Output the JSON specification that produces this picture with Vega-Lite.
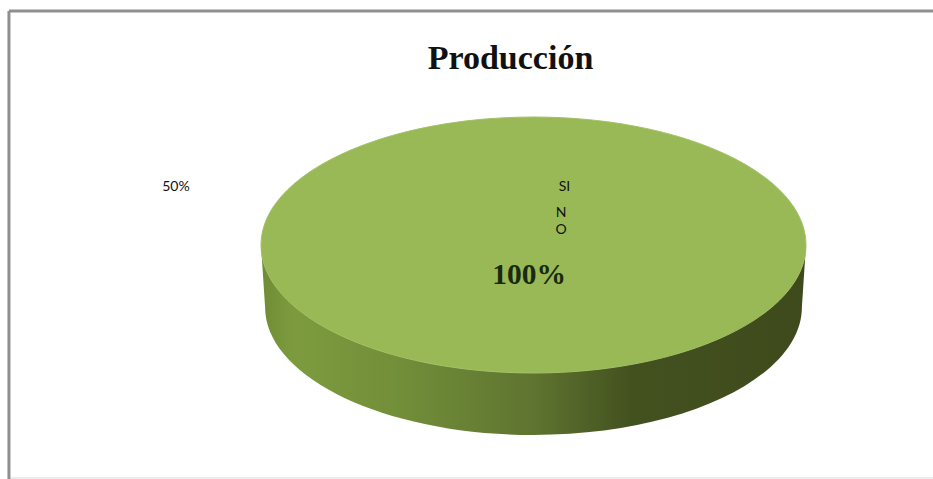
{
  "$schema": "https://vega.github.io/schema/vega-lite/v6.json",
  "width": 933,
  "height": 479,
  "padding": 0,
  "autosize": {"type": "none"},
  "background": "#ffffff",
  "view": {"stroke": null},
  "title": {"text": "Producción", "font": "Liberation Serif", "fontSize": 34, "fontWeight": "bold", "color": "#111111", "anchor": "middle", "frame": "group", "dx": 44, "offset": -103, "baseline": "alphabetic"},
  "data": {"values": [
    {"respuesta": "SI", "porcentaje": 100, "etiqueta": "100%", "nombre": "SI"},
    {"respuesta": "NO", "porcentaje": 50, "etiqueta": "50%", "nombre": "N\nO"}
  ]},
  "layer": [
    {
      "transform": [{"filter": "datum.respuesta === 'SI'"}],
      "mark": {"type": "rule", "color": "#ececec", "strokeWidth": 2},
      "encoding": {
        "x": {"datum": 0.96, "type": "quantitative", "scale": {"domain": [0, 100]}, "axis": null},
        "x2": {"datum": 100},
        "y": {"datum": 99.8, "type": "quantitative", "scale": {"domain": [0, 100], "reverse": true}, "axis": null}
      }
    },
    {
      "transform": [{"filter": "datum.respuesta === 'SI'"}],
      "mark": {"type": "rule", "color": "#8f8f8f", "strokeWidth": 3},
      "encoding": {
        "x": {"datum": 0.96, "type": "quantitative", "scale": {"domain": [0, 100]}, "axis": null},
        "x2": {"datum": 100},
        "y": {"datum": 2.3, "type": "quantitative", "scale": {"domain": [0, 100], "reverse": true}, "axis": null}
      }
    },
    {
      "transform": [{"filter": "datum.respuesta === 'SI'"}],
      "mark": {"type": "rule", "color": "#8f8f8f", "strokeWidth": 3},
      "encoding": {
        "x": {"datum": 0.96, "type": "quantitative", "scale": {"domain": [0, 100]}, "axis": null},
        "y": {"datum": 2.3, "type": "quantitative", "scale": {"domain": [0, 100], "reverse": true}, "axis": null},
        "y2": {"datum": 100}
      }
    },
    {
      "transform": [{"filter": "datum.respuesta === 'SI'"}],
      "mark": {
        "type": "point", "filled": true, "opacity": 1, "size": 297025,
        "shape": "M-1,0 L-0.985,0.2275 A0.985,0.4697 0 0 0 0.985,0.2275 L1,0 Z",
        "fill": {"gradient": "linear", "x1": 0, "y1": 0, "x2": 1, "y2": 0, "stops": [
          {"offset": 0, "color": "#6f8c35"},
          {"offset": 0.06, "color": "#7d9b3e"},
          {"offset": 0.25, "color": "#728f39"},
          {"offset": 0.5, "color": "#5f7430"},
          {"offset": 0.68, "color": "#43511f"},
          {"offset": 1, "color": "#3f4a1c"}
        ]}
      },
      "encoding": {
        "x": {"datum": 57.18, "type": "quantitative", "scale": {"domain": [0, 100]}, "axis": null},
        "y": {"datum": 51.15, "type": "quantitative", "scale": {"domain": [0, 100], "reverse": true}, "axis": null}
      }
    },
    {
      "transform": [{"filter": "datum.respuesta === 'SI'"}],
      "mark": {
        "type": "point", "filled": true, "opacity": 1, "size": 297025,
        "shape": "M-1,0 A1,0.4697 0 1 1 1,0 A1,0.4697 0 1 1 -1,0 Z",
        "fill": "#98b955", "stroke": "#a4c268", "strokeWidth": 1
      },
      "encoding": {
        "x": {"datum": 57.18, "type": "quantitative", "scale": {"domain": [0, 100]}, "axis": null},
        "y": {"datum": 51.15, "type": "quantitative", "scale": {"domain": [0, 100], "reverse": true}, "axis": null}
      }
    },
    {
      "transform": [{"filter": "datum.respuesta === 'SI'"}],
      "mark": {"type": "text", "font": "Lato", "fontSize": 14, "color": "#111111", "align": "center", "baseline": "middle"},
      "encoding": {
        "text": {"field": "nombre", "type": "nominal"},
        "x": {"datum": 60.5, "type": "quantitative", "scale": {"domain": [0, 100]}, "axis": null},
        "y": {"datum": 39.04, "type": "quantitative", "scale": {"domain": [0, 100], "reverse": true}, "axis": null}
      }
    },
    {
      "transform": [{"filter": "datum.respuesta === 'NO'"}],
      "mark": {"type": "text", "font": "Lato", "fontSize": 14, "color": "#111111", "align": "center", "baseline": "middle", "lineBreak": "\n", "lineHeight": 17},
      "encoding": {
        "text": {"field": "nombre", "type": "nominal"},
        "x": {"datum": 60.13, "type": "quantitative", "scale": {"domain": [0, 100]}, "axis": null},
        "y": {"datum": 44.47, "type": "quantitative", "scale": {"domain": [0, 100], "reverse": true}, "axis": null}
      }
    },
    {
      "transform": [{"filter": "datum.respuesta === 'NO'"}],
      "mark": {"type": "text", "font": "Lato", "fontSize": 14, "color": "#111111", "align": "center", "baseline": "middle"},
      "encoding": {
        "text": {"field": "etiqueta", "type": "nominal"},
        "x": {"datum": 18.86, "type": "quantitative", "scale": {"domain": [0, 100]}, "axis": null},
        "y": {"datum": 39.04, "type": "quantitative", "scale": {"domain": [0, 100], "reverse": true}, "axis": null}
      }
    },
    {
      "transform": [{"filter": "datum.respuesta === 'SI'"}],
      "mark": {"type": "text", "font": "Liberation Serif", "fontSize": 29.5, "fontWeight": "bold", "color": "#1a2a10", "align": "center", "baseline": "middle"},
      "encoding": {
        "text": {"field": "etiqueta", "type": "nominal"},
        "x": {"datum": 56.7, "type": "quantitative", "scale": {"domain": [0, 100]}, "axis": null},
        "y": {"datum": 57.41, "type": "quantitative", "scale": {"domain": [0, 100], "reverse": true}, "axis": null}
      }
    }
  ]
}
